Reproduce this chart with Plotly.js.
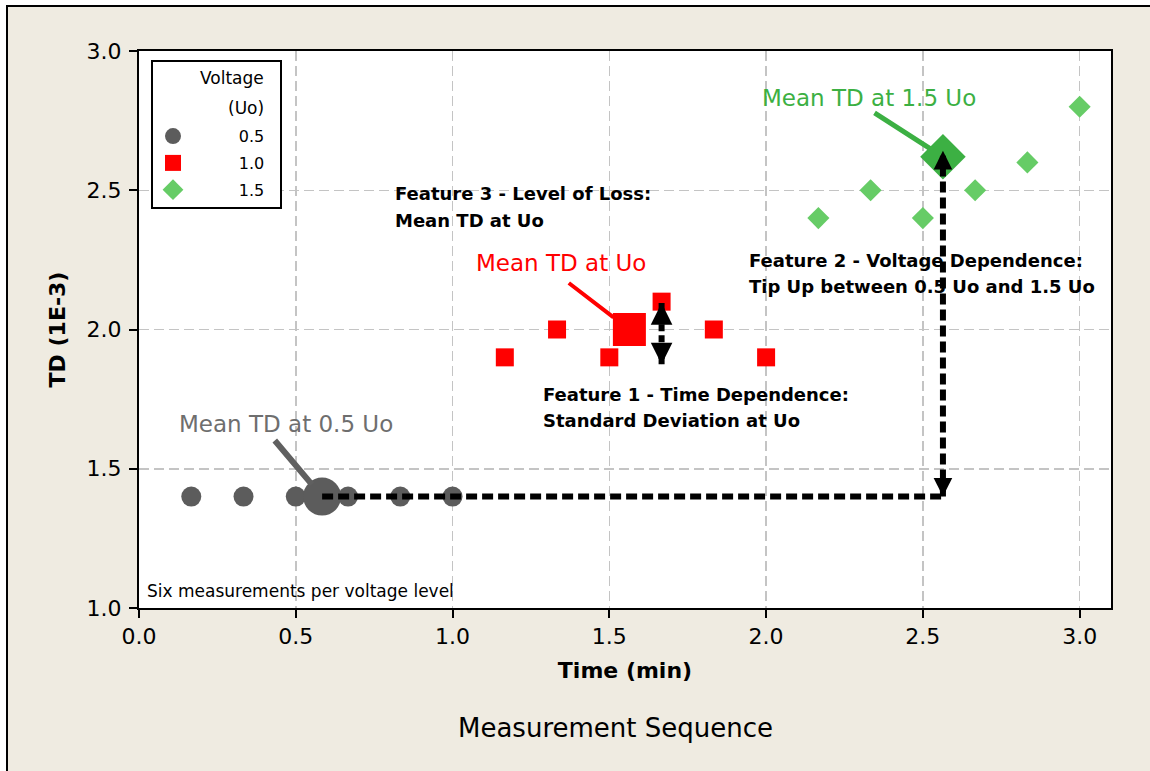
<!DOCTYPE html>
<html>
<head>
<meta charset="utf-8">
<script src="https://cdn.plot.ly/plotly-3.0.1.min.js"></script>
<style>
  html, body { margin: 0; padding: 0; background: #ffffff; overflow: hidden; }
  #frame {
    position: absolute; left: 6px; top: 5px;
    width: 1142px; height: 764px;
    border-left: 2px solid #000; border-top: 2px solid #000;
    background: #EFEBE1;
  }
  #chart { width: 1142px; height: 764px; }
</style>
</head>
<body>
<div id="frame"><div id="chart"></div></div>
<script>
// Six TD readings per voltage level, taken one after another in time
const voltageLevels = ['0.5', '1.0', '1.5'];
const legendHeading = ['Voltage', '(Uo)'];

const timeLow  = [0.1667, 0.3333, 0.5, 0.6667, 0.8333, 1.0];
const tdLow    = [1.4, 1.4, 1.4, 1.4, 1.4, 1.4];

const timeMid  = [1.1667, 1.3333, 1.5, 1.6667, 1.8333, 2.0];
const tdMid    = [1.9, 2.0, 1.9, 2.1, 2.0, 1.9];

const timeHigh = [2.1667, 2.3333, 2.5, 2.6667, 2.8333, 3.0];
const tdHigh   = [2.4, 2.5, 2.4, 2.5, 2.6, 2.8];

// Mean TD per voltage level (position of the large markers)
const meanTime = [0.584, 1.564, 2.564];
const meanTD   = [1.4, 2.0, 2.62];

// Spread of TD at Uo (the small double arrow)
const sdTime  = 1.6667;
const sdRange = [1.875, 2.095];

// Where the "Mean TD" call-out lines start
const calloutTime = [0.429, 1.366, 2.341];
const calloutTD   = [1.607, 2.171, 2.781];

const xTicks = [0, 0.5, 1.0, 1.5, 2.0, 2.5, 3.0];
const yTicks = [1.0, 1.5, 2.0, 2.5, 3.0];

const FONT = 'DejaVu Sans';
const GRAY = '#5c5c5c', RED = '#ff0000', GREEN = '#66cc66', DKGREEN = '#3cb043';

// legend entries are right-aligned by padding with non-breaking spaces
const pad = n => '&nbsp;'.repeat(n);
const legendName = v => pad(9) + v + pad(2);

const traces = [
  { x: timeLow, y: tdLow, name: legendName(voltageLevels[0]), legendgroup: 'a', type: 'scatter', mode: 'markers',
    marker: { symbol: 'circle', size: 20, color: GRAY } },
  { x: timeMid, y: tdMid, name: legendName(voltageLevels[1]), legendgroup: 'b', type: 'scatter', mode: 'markers',
    marker: { symbol: 'square', size: 18, color: RED } },
  { x: timeHigh, y: tdHigh, name: legendName(voltageLevels[2]), legendgroup: 'c', type: 'scatter', mode: 'markers',
    marker: { symbol: 'diamond', size: 17, color: GREEN } },
  // large markers at the mean of each level
  { x: [meanTime[0]], y: [meanTD[0]], type: 'scatter', mode: 'markers', showlegend: false,
    marker: { symbol: 'circle', size: 38, color: GRAY } },
  { x: [meanTime[1]], y: [meanTD[1]], type: 'scatter', mode: 'markers', showlegend: false,
    marker: { symbol: 'square', size: 33, color: RED } },
  { x: [meanTime[2]], y: [meanTD[2]], type: 'scatter', mode: 'markers', showlegend: false,
    marker: { symbol: 'diamond', size: 35, color: DKGREEN } }
];

const dashLine = { color: '#000', width: 6, dash: '11px,5px' };

const shapes = [
  // level of TD at 0.5 Uo carried across to the 1.5 Uo mean
  { type: 'line', xref: 'x', yref: 'y', x0: meanTime[0], x1: meanTime[2], y0: meanTD[0], y1: meanTD[0], line: dashLine },
  // tip-up between 0.5 Uo and 1.5 Uo
  { type: 'line', xref: 'x', yref: 'y', x0: meanTime[2], x1: meanTime[2], y0: meanTD[0], y1: meanTD[2], line: dashLine },
  // spread at Uo
  { type: 'line', xref: 'x', yref: 'y', x0: sdTime, x1: sdTime, y0: sdRange[0], y1: sdRange[1],
    line: { color: '#000', width: 6, dash: '7px,4px' } }
];

function head(x, y, dir, extra) {
  return Object.assign({
    x: x, y: y, xref: 'x', yref: 'y', text: '', showarrow: true,
    arrowhead: 2, arrowsize: 0.62, arrowwidth: 6, arrowcolor: '#000',
    ax: 0, ay: dir === 'up' ? 12 : -12, standoff: 0
  }, extra || {});
}

function label(x, y, text, color, size, bold) {
  return {
    x: x, y: y, xref: 'x', yref: 'y', text: text, showarrow: false,
    xanchor: 'left', yanchor: 'middle',
    font: { family: FONT, size: size, color: color, weight: bold ? 'bold' : 'normal' }
  };
}

const calloutColors = ['#606060', RED, DKGREEN];
const calloutWidths = [6, 4, 5];
const calloutStandoff = [16, 20, 12];

const annotations = [
  head(meanTime[2], meanTD[2], 'up', { yshift: 6 }),
  head(meanTime[2], meanTD[0], 'down'),
  head(sdTime, sdRange[1], 'up', { arrowsize: 0.72 }),
  head(sdTime, sdRange[0], 'down', { arrowsize: 0.72 }),

  label(0.122, 1.661, 'Mean TD at 0.5 Uo', '#6e6e6e', 23, false),
  label(1.069, 2.239, 'Mean TD at Uo', RED, 23, false),
  label(1.981, 2.831, 'Mean TD at 1.5 Uo', DKGREEN, 23, false),

  label(0.811, 2.490, 'Feature 3 - Level of Loss:', '#000', 18, true),
  label(0.811, 2.393, 'Mean TD at Uo', '#000', 18, true),
  label(1.939, 2.248, 'Feature 2 - Voltage Dependence:', '#000', 18, true),
  label(1.939, 2.153, 'Tip Up between 0.5 Uo and 1.5 Uo', '#000', 18, true),
  label(1.283, 1.765, 'Feature 1 - Time Dependence:', '#000', 18, true),
  label(1.283, 1.675, 'Standard Deviation at Uo', '#000', 18, true),

  label(0.019, 1.061, 'Six measurements per voltage level', '#000', 17, false),

  { xref: 'paper', yref: 'paper', x: 0.49, y: -0.2154, text: 'Measurement Sequence', showarrow: false,
    xanchor: 'center', yanchor: 'middle', font: { family: FONT, size: 26, color: '#000' } },

  // legend heading, right-aligned above the entries
  { xref: 'paper', yref: 'paper', x: 0.1307, y: 0.9515, text: legendHeading[0], showarrow: false,
    xanchor: 'right', yanchor: 'middle', font: { family: FONT, size: 17, color: '#000' } },
  { xref: 'paper', yref: 'paper', x: 0.1307, y: 0.8977, text: legendHeading[1], showarrow: false,
    xanchor: 'right', yanchor: 'middle', font: { family: FONT, size: 17, color: '#000' } }
];

for (let i = 0; i < 3; i++) {
  annotations.push({
    x: meanTime[i], y: meanTD[i], xref: 'x', yref: 'y',
    ax: calloutTime[i], ay: calloutTD[i], axref: 'x', ayref: 'y',
    text: '', showarrow: true, arrowhead: 0, arrowwidth: calloutWidths[i],
    arrowcolor: calloutColors[i], standoff: calloutStandoff[i]
  });
}

const axisCommon = {
  showline: true, mirror: true, linecolor: '#000', linewidth: 2,
  ticks: 'outside', ticklen: 8, tickwidth: 2, tickcolor: '#000',
  showgrid: true, gridcolor: '#c4c4c4', gridwidth: 1.5, griddash: '10px,5px',
  zeroline: false, tickformat: '.1f',
  tickfont: { family: FONT, size: 22, color: '#000' }
};

const layout = {
  width: 1142, height: 764,
  margin: { l: 131, r: 39, t: 44, b: 163 },
  paper_bgcolor: '#EFEBE1', plot_bgcolor: '#ffffff',
  font: { family: FONT, color: '#000' },
  xaxis: Object.assign({}, axisCommon, {
    range: [0, 3.1], tickvals: xTicks,
    title: { text: 'Time (min)', standoff: 14, font: { family: FONT, size: 22, weight: 'bold', color: '#000' } }
  }),
  yaxis: Object.assign({}, axisCommon, {
    range: [1, 3], tickvals: yTicks, ticklabelstandoff: 3,
    title: { text: 'TD (1E-3)', standoff: 15, font: { family: FONT, size: 22, weight: 'bold', color: '#000' } }
  }),
  legend: {
    x: 12 / 972, y: 1 - 9 / 557, xanchor: 'left', yanchor: 'top',
    bgcolor: '#ffffff', bordercolor: '#000', borderwidth: 2,
    font: { family: FONT, size: 16, color: '#000' },
    // two blank lines keep room for the heading drawn above
    title: { text: pad(1) + '<br>' + pad(1), side: 'top', font: { family: FONT, size: 22, color: '#000' } },
    itemwidth: 30, tracegroupgap: 3, traceorder: 'grouped'
  },
  shapes: shapes,
  annotations: annotations,
  showlegend: true
};

Plotly.newPlot('chart', traces, layout, { displayModeBar: false, staticPlot: true });
</script>
</body>
</html>
